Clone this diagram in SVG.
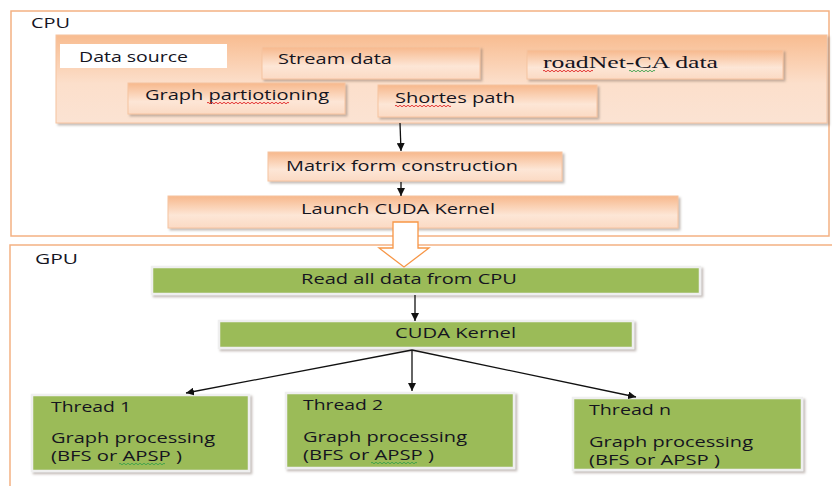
<svg xmlns="http://www.w3.org/2000/svg" width="832" height="486" viewBox="0 0 832 486">
<defs>
<linearGradient id="gPanel" x1="0" y1="0" x2="0" y2="1">
<stop offset="0" stop-color="#F8BC90"/><stop offset="0.55" stop-color="#FCDFCB"/><stop offset="1" stop-color="#FBE3D3"/>
</linearGradient>
<linearGradient id="gBox" x1="0" y1="0" x2="0" y2="1">
<stop offset="0" stop-color="#F7B88C"/><stop offset="0.6" stop-color="#FDE6D6"/><stop offset="1" stop-color="#FBDAC4"/>
</linearGradient>
<marker id="ah" viewBox="0 0 10 10" refX="10" refY="5" markerWidth="8" markerHeight="8" orient="auto" markerUnits="userSpaceOnUse">
<path d="M0,0 L10,5 L0,10 z" fill="#111"/>
</marker>
<filter id="sh" x="-5%" y="-20%" width="115%" height="150%">
<feDropShadow dx="2" dy="2" stdDeviation="1.2" flood-color="#7a6a60" flood-opacity="0.45"/>
</filter>
</defs>
<style>
.t{font-family:"Open Sans","Liberation Sans",sans-serif;font-size:14px;fill:#15151f}
.serif{font-family:"Liberation Serif",serif;font-size:16px;fill:#15151f}
.frame{fill:none;stroke:#F4B183;stroke-width:1.5}
.obox{fill:url(#gBox);stroke:#F6C3A0;stroke-width:1;filter:url(#sh)}
.gbox{fill:#9BBB59;stroke:#EFEFEF;stroke-width:2.5;filter:url(#sh)}
.conn{stroke:#111;stroke-width:1.3;fill:none;marker-end:url(#ah)}
.squig{fill:none;stroke-width:0.9}
</style>
<rect width="832" height="486" fill="#fff"/>

<g id="cpu">
<rect class="frame" x="11" y="11" width="818" height="225"/>
<text class="t" x="31" y="28" textLength="39" lengthAdjust="spacingAndGlyphs">CPU</text>
</g>
<g id="gpu">
<path class="frame" d="M10,486 V245 H832"/>
<text class="t" x="35" y="264" textLength="43" lengthAdjust="spacingAndGlyphs">GPU</text>
</g>

<g id="panel">
<rect x="56" y="35" width="771" height="88" fill="url(#gPanel)" stroke="#F6C3A0" filter="url(#sh)"/>
</g>
<g id="datasource">
<rect x="60" y="44" width="167" height="24" fill="#fff"/>
<text class="t" x="79" y="62" textLength="109" lengthAdjust="spacingAndGlyphs">Data source</text>
</g>
<g id="streamdata">
<rect class="obox" x="262" y="47" width="218" height="32"/>
<text class="t" x="278" y="64" textLength="114" lengthAdjust="spacingAndGlyphs">Stream data</text>
</g>
<g id="roadnet">
<rect class="obox" x="527" y="50" width="256" height="29"/>
<text class="serif" x="543" y="68" textLength="175" lengthAdjust="spacingAndGlyphs">roadNet-CA data</text>
<path class="squig" stroke="#e02020" d="M543,71 q1,-1.5 2,0 t2,0 t2,0 t2,0 t2,0 t2,0 t2,0 t2,0 t2,0 t2,0 t2,0 t2,0 t2,0 t2,0 t2,0 t2,0 t2,0 t2,0 t2,0 t2,0 t2,0 t2,0 t2,0 t2,0 t2,0"/>
<path class="squig" stroke="#3aa04a" d="M629,71 q1,-1.5 2,0 t2,0 t2,0 t2,0 t2,0 t2,0 t2,0 t2,0 t2,0 t2,0 t2,0 t2,0 t2,0"/>
</g>
<g id="graphpart">
<rect class="obox" x="128" y="83" width="217" height="31"/>
<text class="t" x="145" y="100" textLength="184" lengthAdjust="spacingAndGlyphs">Graph partiotioning</text>
<path class="squig" stroke="#e02020" d="M207,103 q1,-1.5 2,0 t2,0 t2,0 t2,0 t2,0 t2,0 t2,0 t2,0 t2,0 t2,0 t2,0 t2,0 t2,0 t2,0 t2,0 t2,0 t2,0 t2,0 t2,0 t2,0 t2,0 t2,0 t2,0 t2,0 t2,0 t2,0 t2,0 t2,0 t2,0 t2,0 t2,0 t2,0 t2,0 t2,0 t2,0 t2,0 t2,0 t2,0 t2,0 t2,0 t2,0"/>
</g>
<g id="shortes">
<rect class="obox" x="378" y="85" width="219" height="32"/>
<text class="t" x="395" y="103" textLength="120" lengthAdjust="spacingAndGlyphs">Shortes path</text>
<path class="squig" stroke="#e02020" d="M395,106 q1,-1.5 2,0 t2,0 t2,0 t2,0 t2,0 t2,0 t2,0 t2,0 t2,0 t2,0 t2,0 t2,0 t2,0 t2,0 t2,0 t2,0 t2,0 t2,0 t2,0 t2,0 t2,0 t2,0 t2,0 t2,0 t2,0 t2,0 t2,0 t2,0"/>
</g>
<g id="matrix">
<rect class="obox" x="268" y="152" width="294" height="29"/>
<text class="t" x="286" y="171" textLength="232" lengthAdjust="spacingAndGlyphs">Matrix form construction</text>
</g>
<g id="launch">
<rect class="obox" x="168" y="196" width="510" height="32"/>
<text class="t" x="301" y="214" textLength="194" lengthAdjust="spacingAndGlyphs">Launch CUDA Kernel</text>
</g>

<g id="readall">
<rect class="gbox" x="152" y="267" width="548" height="27"/>
<text class="t" x="301" y="284" textLength="216" lengthAdjust="spacingAndGlyphs">Read all data from CPU</text>
</g>
<g id="cudakernel">
<rect class="gbox" x="219" y="321" width="414" height="27"/>
<text class="t" x="395" y="338" textLength="121" lengthAdjust="spacingAndGlyphs">CUDA Kernel</text>
</g>
<g id="thread1">
<rect class="gbox" x="32" y="395" width="217" height="76"/>
<text class="t" x="51" y="412" textLength="80" lengthAdjust="spacingAndGlyphs">Thread 1</text>
<text class="t" x="51" y="443" textLength="164" lengthAdjust="spacingAndGlyphs">Graph processing</text>
<text class="t" x="51" y="461" textLength="131" lengthAdjust="spacingAndGlyphs">(BFS or APSP )</text>
<path class="squig" stroke="#3aa04a" d="M119,464 q1,-1.5 2,0 t2,0 t2,0 t2,0 t2,0 t2,0 t2,0 t2,0 t2,0 t2,0 t2,0 t2,0 t2,0 t2,0 t2,0 t2,0 t2,0 t2,0 t2,0 t2,0 t2,0 t2,0 t2,0"/>
</g>
<g id="thread2">
<rect class="gbox" x="286" y="393" width="228" height="75"/>
<text class="t" x="303" y="410" textLength="80" lengthAdjust="spacingAndGlyphs">Thread 2</text>
<text class="t" x="303" y="442" textLength="164" lengthAdjust="spacingAndGlyphs">Graph processing</text>
<text class="t" x="303" y="460" textLength="131" lengthAdjust="spacingAndGlyphs">(BFS or APSP )</text>
<path class="squig" stroke="#3aa04a" d="M371,463 q1,-1.5 2,0 t2,0 t2,0 t2,0 t2,0 t2,0 t2,0 t2,0 t2,0 t2,0 t2,0 t2,0 t2,0 t2,0 t2,0 t2,0 t2,0 t2,0 t2,0 t2,0 t2,0 t2,0 t2,0"/>
</g>
<g id="threadn">
<rect class="gbox" x="573" y="398" width="229" height="72"/>
<text class="t" x="589" y="415" textLength="82" lengthAdjust="spacingAndGlyphs">Thread n</text>
<text class="t" x="589" y="447" textLength="164" lengthAdjust="spacingAndGlyphs">Graph processing</text>
<text class="t" x="589" y="465" textLength="131" lengthAdjust="spacingAndGlyphs">(BFS or APSP )</text>
</g>

<g id="connectors">
<line class="conn" x1="400" y1="123" x2="401" y2="151"/>
<line class="conn" x1="401" y1="182" x2="401" y2="196"/>
<path d="M393,222 H418 V248 H429 L404,267 L379,248 H393 Z" fill="#fff" stroke="#F79646" stroke-width="1.3"/>
<line class="conn" x1="415" y1="295" x2="415" y2="321"/>
<line class="conn" x1="412" y1="350" x2="186" y2="393"/>
<line class="conn" x1="412" y1="350" x2="412" y2="391"/>
<line class="conn" x1="412" y1="350" x2="636" y2="397"/>
</g>
</svg>
